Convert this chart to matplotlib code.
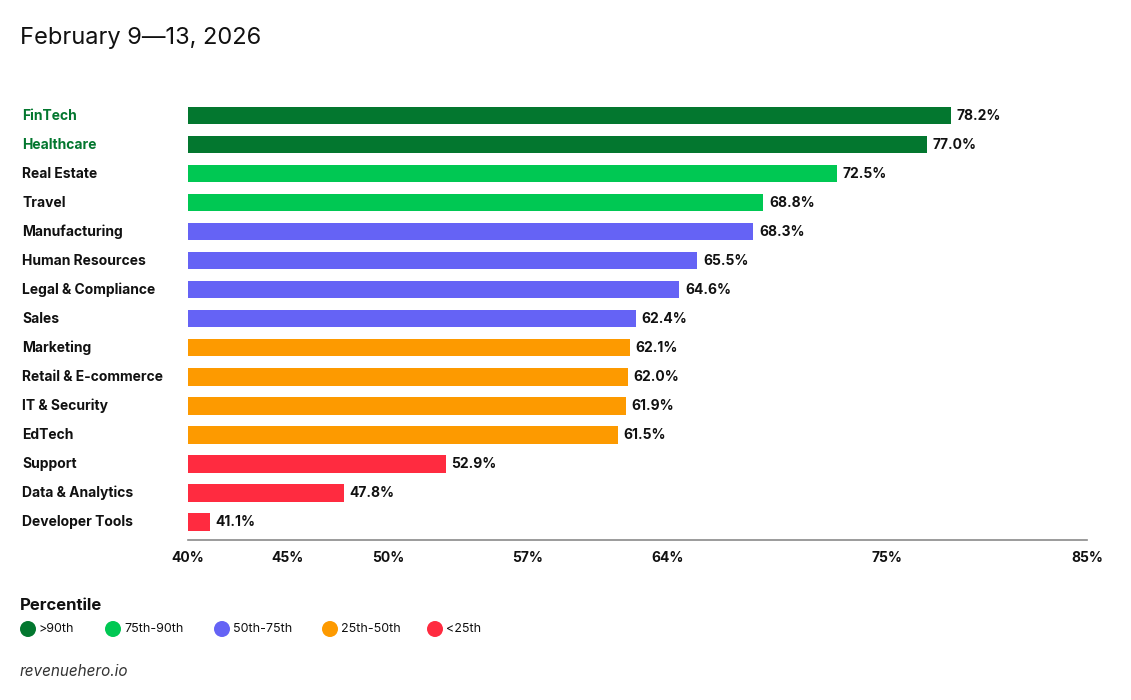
import matplotlib
matplotlib.use("Agg")
import matplotlib.pyplot as plt
import matplotlib.transforms as mtransforms
from matplotlib.patches import Ellipse

categories = ["FinTech", "Healthcare", "Real Estate", "Travel", "Manufacturing",
              "Human Resources", "Legal & Compliance", "Sales", "Marketing",
              "Retail & E-commerce", "IT & Security", "EdTech", "Support",
              "Data & Analytics", "Developer Tools"]
values = [78.2, 77.0, 72.5, 68.8, 68.3, 65.5, 64.6, 62.4, 62.1, 62.0, 61.9, 61.5, 52.9, 47.8, 41.1]
groups = [0, 0, 1, 1, 2, 2, 2, 2, 3, 3, 3, 3, 4, 4, 4]
group_labels = [">90th", "75th-90th", "50th-75th", "25th-50th", "<25th"]
group_colors = ["#03772F", "#00C853", "#6563F5", "#FD9A00", "#FF2B40"]
xticks = [40, 45, 50, 57, 64, 75, 85]
title = "February 9\u201413, 2026"

plt.rcParams["font.family"] = ["Inter", "DejaVu Sans"]

W, H = 1131, 700
fig = plt.figure(figsize=(W / 100, H / 100), dpi=100)

ax_left, ax_right = 188 / W, 1087 / W
ax_bottom = 1 - 540 / H
ax_top = 1 - 99 / H
ax = fig.add_axes([ax_left, ax_bottom, ax_right - ax_left, ax_top - ax_bottom])

n = len(categories)
ypos = list(range(n))
colors = [group_colors[g] for g in groups]
base = 40
ax.barh(ypos, [v - base for v in values], left=base, height=0.59, color=colors)
ax.set_xlim(40, 85)
ax.set_ylim(n - 1 + 0.62, -0.58)

for y, v in zip(ypos, values):
    ax.annotate(f"{v:.1f}%", (v, y), xytext=(4, 0), textcoords="offset points",
                va="center", ha="left", fontsize=10, fontweight="bold", color="#111111")

for s in ["top", "right", "left"]:
    ax.spines[s].set_visible(False)
ax.spines["bottom"].set_color("#8a8a8a")
ax.spines["bottom"].set_linewidth(1.2)
ax.set_yticks([])
ax.set_xticks(xticks)
ax.set_xticklabels([f"{t}%" for t in xticks], fontsize=10, fontweight="bold", color="#111111")
ax.tick_params(axis="x", length=0, pad=8)

trans = mtransforms.blended_transform_factory(fig.transFigure, ax.transData)
for y, c, g in zip(ypos, categories, groups):
    col = group_colors[0] if g == 0 else "#111111"
    ax.text(22 / W, y, c, transform=trans, fontsize=10, fontweight="bold",
            color=col, va="center", ha="left", clip_on=False)

fig.text(20 / W, 1 - 38 / H, title, fontsize=17, color="#111111", va="center", ha="left")
fig.text(20 / W, 1 - 606 / H, "Percentile", fontsize=12, fontweight="bold",
         color="#111111", va="center", ha="left")

leg_x = [28, 113, 222, 330, 435]
leg_y = 629
for x, lab, col in zip(leg_x, group_labels, group_colors):
    fig.patches.append(Ellipse((x / W, 1 - leg_y / H), 16 / W, 16 / H,
                               transform=fig.transFigure, facecolor=col, edgecolor="none"))
    fig.text((x + 11) / W, 1 - leg_y / H, lab, fontsize=9, color="#111111",
             va="center", ha="left")

fig.text(20 / W, 1 - 671 / H, "revenuehero.io", fontsize=11, style="italic",
         color="#333333", va="center", ha="left")

fig.savefig("out.png", dpi=100)
